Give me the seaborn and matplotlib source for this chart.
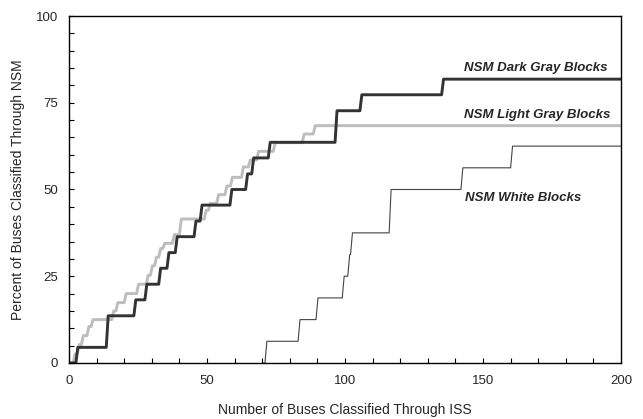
import matplotlib
matplotlib.use("Agg")
import matplotlib.pyplot as plt
from matplotlib.ticker import MultipleLocator
import seaborn as sns

# values (x = buses via ISS, y = percent via NSM)
dark_x = [0, 2.5, 13.5, 23.5, 27.5, 32.5, 35.5, 38.5, 45.3, 47.5, 58.3, 64, 66.2,
          72.2, 96.4, 105.4, 135, 200]
dark_y = [0, 4.5, 13.6, 18.2, 22.7, 27.3, 31.8, 36.4, 40.9, 45.5, 50, 54.5, 59.1,
          63.6, 72.7, 77.3, 81.8, 81.8]

light_x = [0, 1.5, 3, 4.5, 6.5, 8, 15.5, 17, 20, 24.5, 28, 29.5, 31, 32.5, 34,
           37.5, 40, 49, 50.5, 53.5, 56.5, 58.5, 62.5, 65, 68, 74, 84.5, 88.5, 200]
light_y = [0, 2.6, 5.3, 7.9, 10.5, 12.5, 15, 17.4, 20, 22.7, 25.3, 28, 30.5, 33,
           34.5, 37, 41.5, 44, 46, 48.5, 51, 53.5, 56.5, 58.5, 61, 63.5, 66, 68.4, 68.4]

white_x = [70.5, 71, 83, 89.5, 99, 101, 102, 116, 142, 160, 200]
white_y = [0, 6.25, 12.5, 18.75, 25, 31.25, 37.5, 50, 56.25, 62.5, 62.5]

labels = ["NSM Dark Gray Blocks", "NSM Light Gray Blocks", "NSM White Blocks"]


# the original steps rise with a slight slant, not perfectly vertical
def slanted_steps(xs, ys, slant=0.7):
    px, py = [xs[0]], [ys[0]]
    for i in range(1, len(xs)):
        if ys[i] != ys[i - 1]:
            px += [xs[i], xs[i] + slant]
            py += [ys[i - 1], ys[i]]
        else:
            px.append(xs[i])
            py.append(ys[i])
    return px, py


sns.set_theme(style="ticks")
plt.rcParams['font.family'] = ['Liberation Sans', 'DejaVu Sans']

fig = plt.figure(figsize=(6.43, 4.19), dpi=100)
ax = fig.add_axes([0.1073, 0.1337, 0.8585, 0.8281])

lx, ly = slanted_steps(light_x, light_y)
dx, dy = slanted_steps(dark_x, dark_y)
wx, wy = slanted_steps(white_x, white_y)

sns.lineplot(x=lx, y=ly, color="#bdbdbd", lw=2.1, ax=ax, sort=False, estimator=None)
sns.lineplot(x=dx, y=dy, color="#333333", lw=2.1, ax=ax, sort=False, estimator=None)
sns.lineplot(x=wx, y=wy, color="#444444", lw=0.8, ax=ax, sort=False, estimator=None)

# curve labels
ax.text(195, 85, labels[0], ha="right", va="center", fontsize=9.5,
        fontweight="bold", style="italic")
ax.text(196, 71.5, labels[1], ha="right", va="center", fontsize=9.5,
        fontweight="bold", style="italic")
ax.text(143.5, 47.5, labels[2], ha="left", va="center", fontsize=9.5,
        fontweight="bold", style="italic")

ax.set_xlim(0, 200)
ax.set_ylim(0, 100)
ax.xaxis.set_major_locator(MultipleLocator(50))
ax.xaxis.set_minor_locator(MultipleLocator(10))
ax.yaxis.set_major_locator(MultipleLocator(25))
ax.yaxis.set_minor_locator(MultipleLocator(5))
ax.tick_params(which="both", direction="in", length=3.5, width=0.8,
               color="black", labelsize=9.5)
ax.tick_params(axis="x", which="both", pad=9)
ax.tick_params(axis="y", which="both", pad=8)

for s in ax.spines.values():
    s.set_color("black")
    s.set_linewidth(1.0)

ax.set_xlabel("Number of Buses Classified Through ISS", fontsize=10, labelpad=11)
ax.set_ylabel("Percent of Buses Classified Through NSM", fontsize=10, labelpad=8)

plt.savefig("out.png", dpi=100)
plt.close()
